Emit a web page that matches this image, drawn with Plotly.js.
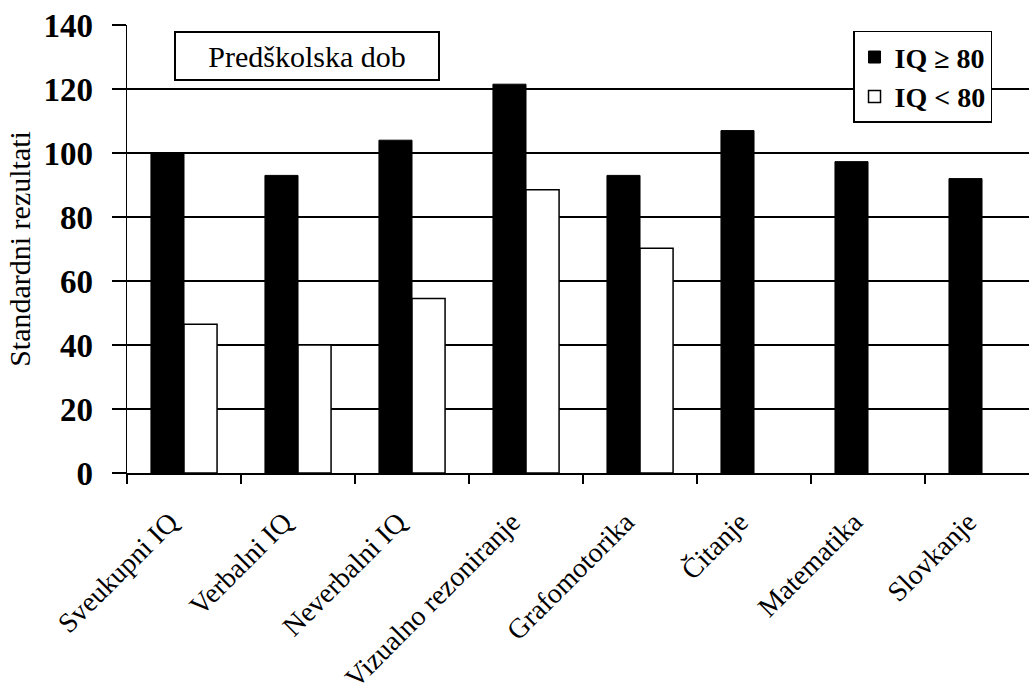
<!DOCTYPE html>
<html>
<head>
<meta charset="utf-8">
<script src="https://cdn.plot.ly/plotly-3.0.1.min.js"></script>
<style>
html,body{margin:0;padding:0;background:#fff;}
#chart{width:1029px;height:694px;}
</style>
</head>
<body>
<div id="chart"></div>
<script>
const categories = ["Sveukupni IQ", "Verbalni IQ", "Neverbalni IQ", "Vizualno rezoniranje", "Grafomotorika", "Čitanje", "Matematika", "Slovkanje"];
const iqHigh = [100, 93, 104, 121.5, 93, 107, 97.3, 92];
const iqLow = [46.5, 40, 54.5, 88.5, 70.2, null, null, null];
const seriesNames = ["IQ \u2265 80", "IQ < 80"];
const yTicks = [0, 20, 40, 60, 80, 100, 120, 140];
const boxLabel = "Predškolska dob";
const yTitle = "Standardni rezultati";

const serif = "Liberation Serif, Times New Roman, serif";

const traces = [
  {
    type: "bar", name: seriesNames[0], x: categories, y: iqHigh,
    marker: {color: "#000000", line: {color: "#000000", width: 1}}
  },
  {
    type: "bar", name: seriesNames[1], x: categories, y: iqLow,
    marker: {color: "#ffffff", line: {color: "#000000", width: 1.5}}
  }
];

const layout = {
  width: 1029, height: 694,
  margin: {l: 127, r: 0, t: 25, b: 221},
  paper_bgcolor: "#ffffff", plot_bgcolor: "#ffffff",
  barmode: "group", bargap: 0.42, bargroupgap: 0,
  showlegend: true,
  legend: {
    x: 0.959, xanchor: "right", y: 0.987, yanchor: "top",
    bordercolor: "#000000", borderwidth: 1.5, bgcolor: "#ffffff",
    font: {family: serif, size: 28, color: "#000000", weight: "bold"},
    itemwidth: 30, tracegroupgap: 0
  },
  xaxis: {
    type: "category", range: [-0.5, 7.412],
    showline: true, linecolor: "#000000", linewidth: 1.5,
    ticks: "outside", tickson: "boundaries", ticklen: 9, tickwidth: 1.5, tickcolor: "#000000",
    tickangle: -45, ticklabelstandoff: 20, ticklabelshift: -14,
    tickfont: {family: serif, size: 28, color: "#000000"},
    showgrid: false, zeroline: false, automargin: false
  },
  yaxis: {
    range: [0, 140], tickvals: yTicks,
    showline: true, linecolor: "#000000", linewidth: 1.5,
    ticks: "outside", ticklen: 14, tickwidth: 1.5, tickcolor: "#000000",
    ticklabelstandoff: 12,
    tickfont: {family: serif, size: 33, color: "#000000", weight: "bold"},
    showgrid: true, gridcolor: "#000000", gridwidth: 1.5,
    zeroline: false, automargin: false,
    title: {text: yTitle, font: {family: serif, size: 30, color: "#000000"}, standoff: 4}
  },
  annotations: [
    {
      text: boxLabel, xref: "x", yref: "y", x: 1.08, y: 130.3,
      xanchor: "center", yanchor: "middle", showarrow: false,
      width: 262, height: 46, borderwidth: 2, bordercolor: "#000000", borderpad: 0,
      bgcolor: "#ffffff",
      font: {family: serif, size: 30, color: "#000000"}
    }
  ]
};

Plotly.newPlot("chart", traces, layout, {displayModeBar: false, staticPlot: true});
</script>
</body>
</html>
